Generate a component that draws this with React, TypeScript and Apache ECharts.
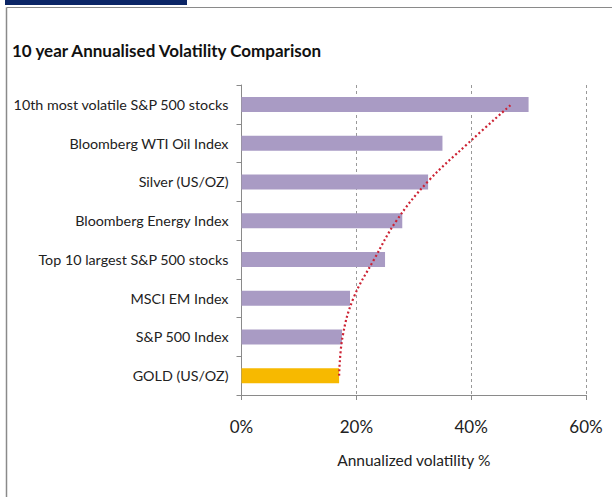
import React, { useEffect, useRef } from "react";
import * as echarts from "echarts";

const categories = [
  "GOLD (US/OZ)",
  "S&P 500 Index",
  "MSCI EM Index",
  "Top 10 largest S&P 500 stocks",
  "Bloomberg Energy Index",
  "Silver (US/OZ)",
  "Bloomberg WTI Oil Index",
  "10th most volatile S&P 500 stocks",
];
const volatility = [17.0, 17.5, 18.9, 25.0, 28.0, 32.5, 35.0, 50.0];
const trend = [17.0, 17.6, 19.5, 23.1, 27.0, 32.4, 39.5, 47.0];
const xTicks = [0, 20, 40, 60];

const FONT = "Lato, 'Open Sans', sans-serif";

export default function App() {
  const ref = useRef<HTMLDivElement>(null);
  useEffect(() => {
    if (!ref.current) return;
    const chart = echarts.init(ref.current, null, { renderer: "svg" });
    chart.setOption({
      animation: false,
      backgroundColor: "#ffffff",
      title: {
        text: "10 year Annualised Volatility Comparison",
        left: 12,
        top: 42,
        padding: 0,
        textStyle: { fontFamily: FONT, fontSize: 17, fontWeight: "bold", color: "#111" },
      },
      graphic: [
        { type: "rect", shape: { x: 5, y: 0, width: 182, height: 5 }, style: { fill: "#0b2566" } },
        { type: "line", shape: { x1: 6.5, y1: 7.5, x2: 612, y2: 7.5 }, style: { stroke: "#8a8a8a", lineWidth: 1 } },
        { type: "line", shape: { x1: 6.5, y1: 7.5, x2: 6.5, y2: 497 }, style: { stroke: "#8a8a8a", lineWidth: 1.5 } },
      ],
      grid: { left: 241.5, right: 26, top: 85, bottom: 102, containLabel: false },
      xAxis: {
        type: "value",
        min: xTicks[0],
        max: xTicks[xTicks.length - 1],
        interval: 20,
        name: "Annualized volatility %",
        nameLocation: "middle",
        nameGap: 57,
        nameTextStyle: { fontFamily: FONT, fontSize: 15.5, color: "#222" },
        axisLine: { show: true, lineStyle: { color: "#8a8a8a", width: 1 } },
        axisTick: { show: true, length: 5, lineStyle: { color: "#8a8a8a" } },
        axisLabel: {
          margin: 23,
          fontFamily: FONT,
          fontSize: 17,
          color: "#222",
          formatter: (v: number) => `${v}%`,
        },
        splitLine: { show: true, lineStyle: { color: "#999", type: [3, 3], width: 1 } },
      },
      yAxis: {
        type: "category",
        data: categories,
        axisLine: { show: true, lineStyle: { color: "#8a8a8a", width: 1 } },
        axisTick: { show: true, length: 5, lineStyle: { color: "#8a8a8a" } },
        axisLabel: { margin: 13, fontFamily: FONT, fontSize: 14.3, color: "#222" },
        splitLine: { show: false },
      },
      series: [
        {
          type: "bar",
          data: volatility.map((v, i) => ({
            value: v,
            itemStyle: { color: i === 0 ? "#F7B900" : "#A99BC4" },
          })),
          barWidth: 15,
        },
        {
          type: "line",
          data: trend,
          smooth: 0.4,
          symbol: "none",
          lineStyle: { color: "#CC2233", width: 2.2, type: [2, 2.5] },
          z: 5,
        },
      ],
    });
    return () => chart.dispose();
  }, []);
  return (
    <div
      ref={ref}
      style={{ position: "fixed", left: 0, top: 0, width: 612, height: 497 }}
    />
  );
}
